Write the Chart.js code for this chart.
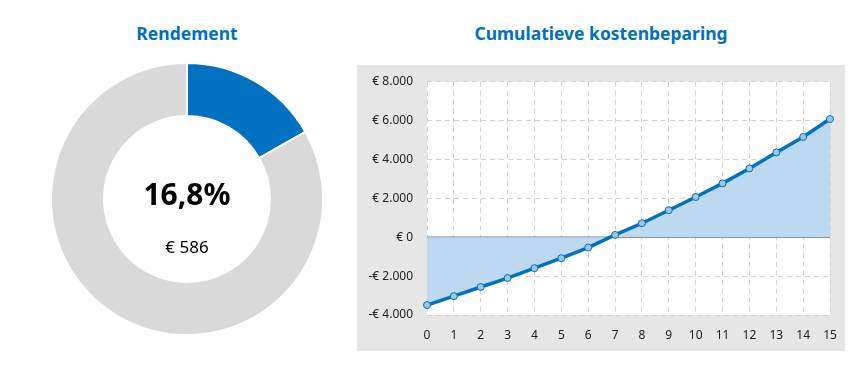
<!DOCTYPE html>
<html><head><meta charset="utf-8">
<script src="https://cdn.jsdelivr.net/npm/chart.js@4/dist/chart.umd.min.js"></script>
<style>
html,body{margin:0;padding:0;background:#fff;width:865px;height:371px;overflow:hidden;font-family:"Noto Sans",sans-serif;}
.t{position:absolute;color:#0070c0;font-weight:bold;font-size:17.5px;text-align:center;white-space:nowrap;}
#dwrap{position:absolute;left:50px;top:62px;width:274px;height:274px;}
#lwrap{position:absolute;left:357px;top:65px;width:488px;height:286px;background:#e6e6e6;}
#pct{position:absolute;left:87px;top:173px;width:200px;text-align:center;font-weight:bold;font-size:30px;color:#000;}
#amt{position:absolute;left:87px;top:235px;width:200px;text-align:center;font-size:17px;color:#000;}
</style></head>
<body>
<div class="t" style="left:87px;top:21px;width:200px;">Rendement</div>
<div class="t" style="left:401px;top:21px;width:400px;">Cumulatieve kostenbeparing</div>
<div id="dwrap"><canvas id="donut"></canvas></div>
<div id="pct">16,8%</div>
<div id="amt">€ 586</div>
<div id="lwrap"><canvas id="line"></canvas></div>
<script>
const donutLabels = ["Rendement", "Rest"];
const donutValues = [16.8, 83.2];
const donutColors = ["#0070c0", "#d9d9d9"];

const years = ["0","1","2","3","4","5","6","7","8","9","10","11","12","13","14","15"];
const cumulativeSavings = [-3490, -3030, -2560, -2100, -1590, -1080, -530, 120, 720, 1390, 2070, 2770, 3540, 4360, 5160, 6080];
const yTickValues = [-4000, -2000, 0, 2000, 4000, 6000, 8000];
const yTickLabels = ["-€ 4.000", "-€ 2.000", "€ 0", "€ 2.000", "€ 4.000", "€ 6.000", "€ 8.000"];

new Chart(document.getElementById('donut'), {
  type: 'doughnut',
  data: { labels: donutLabels, datasets: [{ data: donutValues, backgroundColor: donutColors, borderColor: '#ffffff', borderWidth: 2 }] },
  options: {
    responsive: true, maintainAspectRatio: false, animation: false,
    cutout: '61%',
    plugins: { legend: { display: false }, tooltip: { enabled: false } }
  }
});

const bgPlugin = {
  id: 'areaBg',
  beforeDraw(chart) {
    const a = chart.chartArea, c = chart.ctx;
    c.save(); c.fillStyle = '#ffffff'; c.fillRect(a.left, a.top, a.right - a.left, a.bottom - a.top); c.restore();
  },
  beforeDatasetsDraw(chart) {
    const a = chart.chartArea, c = chart.ctx, y = chart.scales.y.getPixelForValue(0);
    c.save(); c.strokeStyle = '#7f7f7f'; c.lineWidth = 1.5;
    c.beginPath(); c.moveTo(a.left, y); c.lineTo(a.right, y); c.stroke(); c.restore();
  }
};

new Chart(document.getElementById('line'), {
  type: 'line',
  data: { labels: years, datasets: [{
    data: cumulativeSavings,
    borderColor: '#0070c0', borderWidth: 3.5,
    backgroundColor: '#bdd9ef', fill: 'origin',
    pointRadius: 3.5, pointBackgroundColor: '#9cc6e8', pointBorderColor: '#0070c0', pointBorderWidth: 1,
    tension: 0, clip: false
  }] },
  options: {
    responsive: true, maintainAspectRatio: false, animation: false,
    layout: { autoPadding: false, padding: { left: 0, right: 15, top: 16.7, bottom: 0 } },
    plugins: { legend: { display: false }, tooltip: { enabled: false } },
    scales: {
      x: {
        grid: { color: '#d4d4d4', drawTicks: false },
        border: { display: false, dash: [5, 4] },
        ticks: { color: '#222', font: { family: 'Noto Sans', size: 12 }, padding: 13, maxRotation: 0, autoSkip: false },
        afterFit(s) { s.height = 36; s.paddingLeft = 0; s.paddingRight = 0; }
      },
      y: {
        min: -4000, max: 8000,
        afterBuildTicks(s) { s.ticks = yTickValues.map(v => ({ value: v })); },
        grid: { color: '#d4d4d4', drawTicks: false },
        border: { display: false, dash: [5, 4] },
        ticks: { color: '#222', font: { family: 'Noto Sans', size: 12 }, padding: 14,
          callback(v) { const i = yTickValues.indexOf(v); return i >= 0 ? yTickLabels[i] : ''; } },
        afterFit(s) { s.width = 70; s.paddingTop = 0; s.paddingBottom = 0; }
      }
    }
  },
  plugins: [bgPlugin]
});
</script>
</body></html>
